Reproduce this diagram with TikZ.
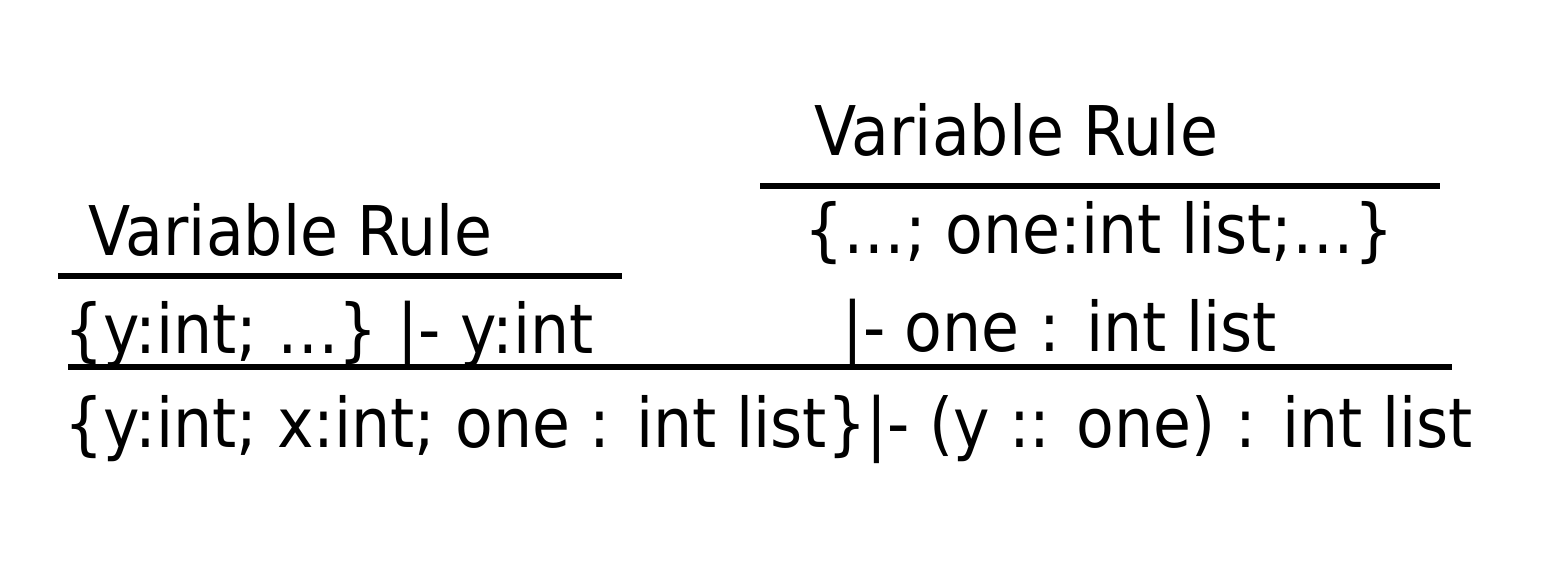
\documentclass[tikz,border=0pt]{standalone}
\usepackage{fontspec}
\setmainfont[FakeStretch=0.9]{DejaVu Sans}
\usepackage{tikz}

\begin{document}
\begin{tikzpicture}[x=0.02cm, y=-0.02cm,
    rule/.style={line width=3.1pt},
    judg/.style={anchor=base west, inner sep=0pt, font=\fontsize{39}{44}\selectfont}]
    \useasboundingbox (0, 0) rectangle (1552, 569);
    % upper right premise
    \node[judg] (toprule) at (814, 155) {Variable Rule};
    \draw[rule] (760, 186) -- (1440, 186);
    \node[judg] (ctxone) at (804, 253) {\{\ldots; one:int list;\ldots\}};
    \node[judg] (hasone) at (842, 351) {|- one : int list};
    % left premise
    \node[judg] (leftrule) at (88, 255) {Variable Rule};
    \draw[rule] (58, 276) -- (622, 276);
    \node[judg] (hasy) at (64, 353) {\{y:int; \ldots\} |- y:int};
    % conclusion
    \draw[rule] (68, 367) -- (1452, 367);
    \node[judg] (concl) at (64, 447) {\{y:int; x:int; one : int list\}|- (y :: one) : int list};
  \end{tikzpicture}
\end{document}
